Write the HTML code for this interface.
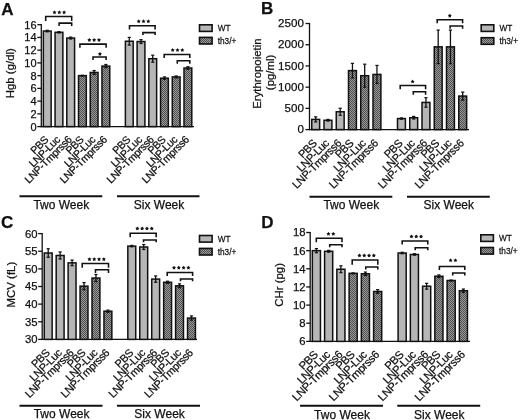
<!DOCTYPE html>
<html><head><meta charset="utf-8"><style>
html,body{margin:0;padding:0;background:#fff;}
body{width:520px;height:420px;overflow:hidden;}
svg{display:block;will-change:transform;filter:blur(0.3px);}
text{font-family:"Liberation Sans", sans-serif;fill:#111;stroke:#111;stroke-width:0.25px;}
</style></head><body>
<svg width="520" height="420" viewBox="0 0 520 420">
<defs>
<pattern id="hatch" patternUnits="userSpaceOnUse" width="2" height="2">
<rect width="2" height="2" fill="#999999"/>
<rect width="1" height="1" fill="#505050"/>
<rect x="1" y="1" width="1" height="1" fill="#505050"/>
</pattern>
</defs>
<rect width="520" height="420" fill="#fff"/>
<text x="1.2" y="14.7" font-size="17" font-weight="bold">A</text>
<line x1="41.3" y1="24.08" x2="41.3" y2="127.2" stroke="#111" stroke-width="1.3"/>
<line x1="37.3" y1="126.6" x2="41.3" y2="126.6" stroke="#111" stroke-width="1.3"/>
<text x="36.6" y="130.5" font-size="11" text-anchor="end">0</text>
<line x1="37.3" y1="113.86" x2="41.3" y2="113.86" stroke="#111" stroke-width="1.3"/>
<text x="36.6" y="117.76" font-size="11" text-anchor="end">2</text>
<line x1="37.3" y1="101.12" x2="41.3" y2="101.12" stroke="#111" stroke-width="1.3"/>
<text x="36.6" y="105.02" font-size="11" text-anchor="end">4</text>
<line x1="37.3" y1="88.38" x2="41.3" y2="88.38" stroke="#111" stroke-width="1.3"/>
<text x="36.6" y="92.28" font-size="11" text-anchor="end">6</text>
<line x1="37.3" y1="75.64" x2="41.3" y2="75.64" stroke="#111" stroke-width="1.3"/>
<text x="36.6" y="79.54" font-size="11" text-anchor="end">8</text>
<line x1="37.3" y1="62.9" x2="41.3" y2="62.9" stroke="#111" stroke-width="1.3"/>
<text x="36.6" y="66.8" font-size="11" text-anchor="end">10</text>
<line x1="37.3" y1="50.16" x2="41.3" y2="50.16" stroke="#111" stroke-width="1.3"/>
<text x="36.6" y="54.06" font-size="11" text-anchor="end">12</text>
<line x1="37.3" y1="37.42" x2="41.3" y2="37.42" stroke="#111" stroke-width="1.3"/>
<text x="36.6" y="41.32" font-size="11" text-anchor="end">14</text>
<line x1="37.3" y1="24.68" x2="41.3" y2="24.68" stroke="#111" stroke-width="1.3"/>
<text x="36.6" y="28.58" font-size="11" text-anchor="end">16</text>
<line x1="40.7" y1="126.6" x2="194" y2="126.6" stroke="#111" stroke-width="1.4"/>
<rect x="43.35" y="31.05" width="7.8" height="95.55" fill="#b6b6b6" stroke="#111" stroke-width="1.5"/>
<line x1="47.25" y1="30.29" x2="47.25" y2="31.81" stroke="#111" stroke-width="1.3"/>
<line x1="45.65" y1="30.29" x2="48.85" y2="30.29" stroke="#111" stroke-width="1.2"/>
<line x1="45.65" y1="31.81" x2="48.85" y2="31.81" stroke="#111" stroke-width="1.2"/>
<text x="49.05" y="140.4" font-size="10.6" letter-spacing="-0.35" text-anchor="end" transform="rotate(-45 49.05 140.4)">PBS</text>
<rect x="55.07" y="32.32" width="7.8" height="94.28" fill="#b6b6b6" stroke="#111" stroke-width="1.5"/>
<line x1="58.97" y1="31.69" x2="58.97" y2="32.96" stroke="#111" stroke-width="1.3"/>
<line x1="57.37" y1="31.69" x2="60.57" y2="31.69" stroke="#111" stroke-width="1.2"/>
<line x1="57.37" y1="32.96" x2="60.57" y2="32.96" stroke="#111" stroke-width="1.2"/>
<text x="60.77" y="140.4" font-size="10.6" letter-spacing="-0.35" text-anchor="end" transform="rotate(-45 60.77 140.4)">LNP-Luc</text>
<rect x="66.79" y="38.06" width="7.8" height="88.54" fill="#b6b6b6" stroke="#111" stroke-width="1.5"/>
<line x1="70.69" y1="37.1" x2="70.69" y2="39.01" stroke="#111" stroke-width="1.3"/>
<line x1="69.09" y1="37.1" x2="72.29" y2="37.1" stroke="#111" stroke-width="1.2"/>
<line x1="69.09" y1="39.01" x2="72.29" y2="39.01" stroke="#111" stroke-width="1.2"/>
<text x="72.49" y="140.4" font-size="10.6" letter-spacing="-0.35" text-anchor="end" transform="rotate(-45 72.49 140.4)">LNP-Tmprss6</text>
<rect x="78.51" y="75.64" width="7.8" height="50.96" fill="url(#hatch)" stroke="#111" stroke-width="1.5"/>
<line x1="82.41" y1="75.32" x2="82.41" y2="75.96" stroke="#111" stroke-width="1.3"/>
<line x1="80.81" y1="75.32" x2="84.01" y2="75.32" stroke="#111" stroke-width="1.2"/>
<line x1="80.81" y1="75.96" x2="84.01" y2="75.96" stroke="#111" stroke-width="1.2"/>
<text x="84.21" y="140.4" font-size="10.6" letter-spacing="-0.35" text-anchor="end" transform="rotate(-45 84.21 140.4)">PBS</text>
<rect x="90.23" y="72.45" width="7.8" height="54.15" fill="url(#hatch)" stroke="#111" stroke-width="1.5"/>
<line x1="94.13" y1="70.54" x2="94.13" y2="74.37" stroke="#111" stroke-width="1.3"/>
<line x1="92.53" y1="70.54" x2="95.73" y2="70.54" stroke="#111" stroke-width="1.2"/>
<line x1="92.53" y1="74.37" x2="95.73" y2="74.37" stroke="#111" stroke-width="1.2"/>
<text x="95.93" y="140.4" font-size="10.6" letter-spacing="-0.35" text-anchor="end" transform="rotate(-45 95.93 140.4)">LNP-Luc</text>
<rect x="101.95" y="66.08" width="7.8" height="60.52" fill="url(#hatch)" stroke="#111" stroke-width="1.5"/>
<line x1="105.85" y1="64.49" x2="105.85" y2="67.68" stroke="#111" stroke-width="1.3"/>
<line x1="104.25" y1="64.49" x2="107.45" y2="64.49" stroke="#111" stroke-width="1.2"/>
<line x1="104.25" y1="67.68" x2="107.45" y2="67.68" stroke="#111" stroke-width="1.2"/>
<text x="107.65" y="140.4" font-size="10.6" letter-spacing="-0.35" text-anchor="end" transform="rotate(-45 107.65 140.4)">LNP-Tmprss6</text>
<rect x="125.39" y="41.24" width="7.8" height="85.36" fill="#b6b6b6" stroke="#111" stroke-width="1.5"/>
<line x1="129.29" y1="37.42" x2="129.29" y2="45.06" stroke="#111" stroke-width="1.3"/>
<line x1="127.69" y1="37.42" x2="130.89" y2="37.42" stroke="#111" stroke-width="1.2"/>
<line x1="127.69" y1="45.06" x2="130.89" y2="45.06" stroke="#111" stroke-width="1.2"/>
<text x="131.09" y="140.4" font-size="10.6" letter-spacing="-0.35" text-anchor="end" transform="rotate(-45 131.09 140.4)">PBS</text>
<rect x="137.11" y="41.56" width="7.8" height="85.04" fill="#b6b6b6" stroke="#111" stroke-width="1.5"/>
<line x1="141.01" y1="39.65" x2="141.01" y2="43.47" stroke="#111" stroke-width="1.3"/>
<line x1="139.41" y1="39.65" x2="142.61" y2="39.65" stroke="#111" stroke-width="1.2"/>
<line x1="139.41" y1="43.47" x2="142.61" y2="43.47" stroke="#111" stroke-width="1.2"/>
<text x="142.81" y="140.4" font-size="10.6" letter-spacing="-0.35" text-anchor="end" transform="rotate(-45 142.81 140.4)">LNP-Luc</text>
<rect x="148.83" y="58.7" width="7.8" height="67.9" fill="#b6b6b6" stroke="#111" stroke-width="1.5"/>
<line x1="152.73" y1="55.19" x2="152.73" y2="62.2" stroke="#111" stroke-width="1.3"/>
<line x1="151.13" y1="55.19" x2="154.33" y2="55.19" stroke="#111" stroke-width="1.2"/>
<line x1="151.13" y1="62.2" x2="154.33" y2="62.2" stroke="#111" stroke-width="1.2"/>
<text x="154.53" y="140.4" font-size="10.6" letter-spacing="-0.35" text-anchor="end" transform="rotate(-45 154.53 140.4)">LNP-Tmprss6</text>
<rect x="160.55" y="78.19" width="7.8" height="48.41" fill="url(#hatch)" stroke="#111" stroke-width="1.5"/>
<line x1="164.45" y1="76.91" x2="164.45" y2="79.46" stroke="#111" stroke-width="1.3"/>
<line x1="162.85" y1="76.91" x2="166.05" y2="76.91" stroke="#111" stroke-width="1.2"/>
<line x1="162.85" y1="79.46" x2="166.05" y2="79.46" stroke="#111" stroke-width="1.2"/>
<text x="166.25" y="140.4" font-size="10.6" letter-spacing="-0.35" text-anchor="end" transform="rotate(-45 166.25 140.4)">PBS</text>
<rect x="172.27" y="76.91" width="7.8" height="49.69" fill="url(#hatch)" stroke="#111" stroke-width="1.5"/>
<line x1="176.17" y1="75.96" x2="176.17" y2="77.87" stroke="#111" stroke-width="1.3"/>
<line x1="174.57" y1="75.96" x2="177.77" y2="75.96" stroke="#111" stroke-width="1.2"/>
<line x1="174.57" y1="77.87" x2="177.77" y2="77.87" stroke="#111" stroke-width="1.2"/>
<text x="177.97" y="140.4" font-size="10.6" letter-spacing="-0.35" text-anchor="end" transform="rotate(-45 177.97 140.4)">LNP-Luc</text>
<rect x="183.99" y="68" width="7.8" height="58.6" fill="url(#hatch)" stroke="#111" stroke-width="1.5"/>
<line x1="187.89" y1="66.72" x2="187.89" y2="69.27" stroke="#111" stroke-width="1.3"/>
<line x1="186.29" y1="66.72" x2="189.49" y2="66.72" stroke="#111" stroke-width="1.2"/>
<line x1="186.29" y1="69.27" x2="189.49" y2="69.27" stroke="#111" stroke-width="1.2"/>
<text x="189.69" y="140.4" font-size="10.6" letter-spacing="-0.35" text-anchor="end" transform="rotate(-45 189.69 140.4)">LNP-Tmprss6</text>
<path d="M45.7 21V16.5H71.7V21" fill="none" stroke="#111" stroke-width="1.55"/>
<path d="M59.1 26V23.1H71.7V26" fill="none" stroke="#111" stroke-width="1.55"/>
<polygon points="54.50,10.35 55.18,11.52 56.50,11.80 55.59,12.81 55.73,14.15 54.50,13.60 53.27,14.15 53.41,12.81 52.50,11.80 53.82,11.52" fill="#111"/>
<polygon points="59.30,10.35 59.98,11.52 61.30,11.80 60.39,12.81 60.53,14.15 59.30,13.60 58.07,14.15 58.21,12.81 57.30,11.80 58.62,11.52" fill="#111"/>
<polygon points="64.10,10.35 64.78,11.52 66.10,11.80 65.19,12.81 65.33,14.15 64.10,13.60 62.87,14.15 63.01,12.81 62.10,11.80 63.42,11.52" fill="#111"/>
<path d="M79.9 47.7V44.1H106.1V47.7" fill="none" stroke="#111" stroke-width="1.55"/>
<path d="M93 60V57H106.1V60" fill="none" stroke="#111" stroke-width="1.55"/>
<polygon points="89.35,37.95 90.03,39.12 91.35,39.40 90.44,40.41 90.58,41.75 89.35,41.20 88.12,41.75 88.26,40.41 87.35,39.40 88.67,39.12" fill="#111"/>
<polygon points="94.15,37.95 94.83,39.12 96.15,39.40 95.24,40.41 95.38,41.75 94.15,41.20 92.92,41.75 93.06,40.41 92.15,39.40 93.47,39.12" fill="#111"/>
<polygon points="98.95,37.95 99.63,39.12 100.95,39.40 100.04,40.41 100.18,41.75 98.95,41.20 97.72,41.75 97.86,40.41 96.95,39.40 98.27,39.12" fill="#111"/>
<polygon points="99.90,51.95 100.58,53.12 101.90,53.40 100.99,54.41 101.13,55.75 99.90,55.20 98.67,55.75 98.81,54.41 97.90,53.40 99.22,53.12" fill="#111"/>
<path d="M129.5 29.6V25.8H155.1V29.6" fill="none" stroke="#111" stroke-width="1.55"/>
<path d="M142.9 35V32.6H155.1V35" fill="none" stroke="#111" stroke-width="1.55"/>
<polygon points="138.70,19.25 139.38,20.42 140.70,20.70 139.79,21.71 139.93,23.05 138.70,22.50 137.47,23.05 137.61,21.71 136.70,20.70 138.02,20.42" fill="#111"/>
<polygon points="143.50,19.25 144.18,20.42 145.50,20.70 144.59,21.71 144.73,23.05 143.50,22.50 142.27,23.05 142.41,21.71 141.50,20.70 142.82,20.42" fill="#111"/>
<polygon points="148.30,19.25 148.98,20.42 150.30,20.70 149.39,21.71 149.53,23.05 148.30,22.50 147.07,23.05 147.21,21.71 146.30,20.70 147.62,20.42" fill="#111"/>
<path d="M164.2 57.9V54.4H189.8V57.9" fill="none" stroke="#111" stroke-width="1.55"/>
<path d="M177.3 63.7V60.8H189.8V63.7" fill="none" stroke="#111" stroke-width="1.55"/>
<polygon points="172.70,48.05 173.38,49.22 174.70,49.50 173.79,50.51 173.93,51.85 172.70,51.30 171.47,51.85 171.61,50.51 170.70,49.50 172.02,49.22" fill="#111"/>
<polygon points="177.50,48.05 178.18,49.22 179.50,49.50 178.59,50.51 178.73,51.85 177.50,51.30 176.27,51.85 176.41,50.51 175.50,49.50 176.82,49.22" fill="#111"/>
<polygon points="182.30,48.05 182.98,49.22 184.30,49.50 183.39,50.51 183.53,51.85 182.30,51.30 181.07,51.85 181.21,50.51 180.30,49.50 181.62,49.22" fill="#111"/>
<line x1="19.5" y1="196.2" x2="102.3" y2="196.2" stroke="#111" stroke-width="2"/>
<text x="61.3" y="209.3" font-size="12" text-anchor="middle">Two Week</text>
<line x1="117" y1="196.2" x2="199.5" y2="196.2" stroke="#111" stroke-width="2"/>
<text x="159" y="209.3" font-size="12" text-anchor="middle">Six Week</text>
<rect x="199.5" y="24.8" width="12.6" height="6.6" fill="#b6b6b6" stroke="#111" stroke-width="1.6"/>
<rect x="199.5" y="37.4" width="12.6" height="6.6" fill="url(#hatch)" stroke="#111" stroke-width="1.6"/>
<text transform="translate(217.7 31) scale(0.87 1)" font-size="9.5">WT</text>
<text transform="translate(217.7 43.6) scale(0.87 1)" font-size="9.5">th3/+</text>
<text x="14.3" y="73.2" font-size="11.4" text-anchor="middle" transform="rotate(-90 14.3 73.2)">Hgb (g/dl)</text>
<text x="261" y="14.2" font-size="17" font-weight="bold">B</text>
<line x1="309.5" y1="22.9" x2="309.5" y2="130.2" stroke="#111" stroke-width="1.3"/>
<line x1="305.5" y1="129.6" x2="309.5" y2="129.6" stroke="#111" stroke-width="1.3"/>
<text x="303.9" y="133.2" font-size="11.6" text-anchor="end">0</text>
<line x1="305.5" y1="108.38" x2="309.5" y2="108.38" stroke="#111" stroke-width="1.3"/>
<text x="303.9" y="111.98" font-size="11.6" text-anchor="end">500</text>
<line x1="305.5" y1="87.16" x2="309.5" y2="87.16" stroke="#111" stroke-width="1.3"/>
<text x="303.9" y="90.76" font-size="11.6" text-anchor="end">1000</text>
<line x1="305.5" y1="65.94" x2="309.5" y2="65.94" stroke="#111" stroke-width="1.3"/>
<text x="303.9" y="69.54" font-size="11.6" text-anchor="end">1500</text>
<line x1="305.5" y1="44.72" x2="309.5" y2="44.72" stroke="#111" stroke-width="1.3"/>
<text x="303.9" y="48.32" font-size="11.6" text-anchor="end">2000</text>
<line x1="305.5" y1="23.5" x2="309.5" y2="23.5" stroke="#111" stroke-width="1.3"/>
<text x="303.9" y="27.1" font-size="11.6" text-anchor="end">2500</text>
<line x1="308.9" y1="129.6" x2="469" y2="129.6" stroke="#111" stroke-width="1.4"/>
<rect x="311.75" y="119.41" width="7.9" height="10.19" fill="#b6b6b6" stroke="#111" stroke-width="1.5"/>
<line x1="315.7" y1="116.87" x2="315.7" y2="121.96" stroke="#111" stroke-width="1.3"/>
<line x1="314.1" y1="116.87" x2="317.3" y2="116.87" stroke="#111" stroke-width="1.2"/>
<line x1="314.1" y1="121.96" x2="317.3" y2="121.96" stroke="#111" stroke-width="1.2"/>
<text x="317.5" y="144" font-size="11.02" letter-spacing="-0.35" text-anchor="end" transform="rotate(-45 317.5 144)">PBS</text>
<rect x="324" y="120.26" width="7.9" height="9.34" fill="#b6b6b6" stroke="#111" stroke-width="1.5"/>
<line x1="327.95" y1="119.41" x2="327.95" y2="121.11" stroke="#111" stroke-width="1.3"/>
<line x1="326.35" y1="119.41" x2="329.55" y2="119.41" stroke="#111" stroke-width="1.2"/>
<line x1="326.35" y1="121.11" x2="329.55" y2="121.11" stroke="#111" stroke-width="1.2"/>
<text x="329.75" y="144" font-size="11.02" letter-spacing="-0.35" text-anchor="end" transform="rotate(-45 329.75 144)">LNP-Luc</text>
<rect x="336.25" y="111.78" width="7.9" height="17.82" fill="#b6b6b6" stroke="#111" stroke-width="1.5"/>
<line x1="340.2" y1="108.25" x2="340.2" y2="115.3" stroke="#111" stroke-width="1.3"/>
<line x1="338.6" y1="108.25" x2="341.8" y2="108.25" stroke="#111" stroke-width="1.2"/>
<line x1="338.6" y1="115.3" x2="341.8" y2="115.3" stroke="#111" stroke-width="1.2"/>
<text x="342" y="144" font-size="11.02" letter-spacing="-0.35" text-anchor="end" transform="rotate(-45 342 144)">LNP-Tmprss6</text>
<rect x="348.5" y="70.61" width="7.9" height="58.99" fill="url(#hatch)" stroke="#111" stroke-width="1.5"/>
<line x1="352.45" y1="63.35" x2="352.45" y2="77.87" stroke="#111" stroke-width="1.3"/>
<line x1="350.85" y1="63.35" x2="354.05" y2="63.35" stroke="#111" stroke-width="1.2"/>
<line x1="350.85" y1="77.87" x2="354.05" y2="77.87" stroke="#111" stroke-width="1.2"/>
<text x="354.25" y="144" font-size="11.02" letter-spacing="-0.35" text-anchor="end" transform="rotate(-45 354.25 144)">PBS</text>
<rect x="360.75" y="75.7" width="7.9" height="53.9" fill="url(#hatch)" stroke="#111" stroke-width="1.5"/>
<line x1="364.7" y1="64.2" x2="364.7" y2="87.2" stroke="#111" stroke-width="1.3"/>
<line x1="363.1" y1="64.2" x2="366.3" y2="64.2" stroke="#111" stroke-width="1.2"/>
<line x1="363.1" y1="87.2" x2="366.3" y2="87.2" stroke="#111" stroke-width="1.2"/>
<text x="366.5" y="144" font-size="11.02" letter-spacing="-0.35" text-anchor="end" transform="rotate(-45 366.5 144)">LNP-Luc</text>
<rect x="373" y="74.43" width="7.9" height="55.17" fill="url(#hatch)" stroke="#111" stroke-width="1.5"/>
<line x1="376.95" y1="65.43" x2="376.95" y2="83.43" stroke="#111" stroke-width="1.3"/>
<line x1="375.35" y1="65.43" x2="378.55" y2="65.43" stroke="#111" stroke-width="1.2"/>
<line x1="375.35" y1="83.43" x2="378.55" y2="83.43" stroke="#111" stroke-width="1.2"/>
<text x="378.75" y="144" font-size="11.02" letter-spacing="-0.35" text-anchor="end" transform="rotate(-45 378.75 144)">LNP-Tmprss6</text>
<rect x="397.5" y="118.57" width="7.9" height="11.03" fill="#b6b6b6" stroke="#111" stroke-width="1.5"/>
<line x1="401.45" y1="117.93" x2="401.45" y2="119.2" stroke="#111" stroke-width="1.3"/>
<line x1="399.85" y1="117.93" x2="403.05" y2="117.93" stroke="#111" stroke-width="1.2"/>
<line x1="399.85" y1="119.2" x2="403.05" y2="119.2" stroke="#111" stroke-width="1.2"/>
<text x="403.25" y="144" font-size="11.02" letter-spacing="-0.35" text-anchor="end" transform="rotate(-45 403.25 144)">PBS</text>
<rect x="409.75" y="117.72" width="7.9" height="11.88" fill="#b6b6b6" stroke="#111" stroke-width="1.5"/>
<line x1="413.7" y1="116.44" x2="413.7" y2="118.99" stroke="#111" stroke-width="1.3"/>
<line x1="412.1" y1="116.44" x2="415.3" y2="116.44" stroke="#111" stroke-width="1.2"/>
<line x1="412.1" y1="118.99" x2="415.3" y2="118.99" stroke="#111" stroke-width="1.2"/>
<text x="415.5" y="144" font-size="11.02" letter-spacing="-0.35" text-anchor="end" transform="rotate(-45 415.5 144)">LNP-Luc</text>
<rect x="422" y="102.44" width="7.9" height="27.16" fill="#b6b6b6" stroke="#111" stroke-width="1.5"/>
<line x1="425.95" y1="97.69" x2="425.95" y2="107.19" stroke="#111" stroke-width="1.3"/>
<line x1="424.35" y1="97.69" x2="427.55" y2="97.69" stroke="#111" stroke-width="1.2"/>
<line x1="424.35" y1="107.19" x2="427.55" y2="107.19" stroke="#111" stroke-width="1.2"/>
<text x="427.75" y="144" font-size="11.02" letter-spacing="-0.35" text-anchor="end" transform="rotate(-45 427.75 144)">LNP-Tmprss6</text>
<rect x="434.25" y="46.84" width="7.9" height="82.76" fill="url(#hatch)" stroke="#111" stroke-width="1.5"/>
<line x1="438.2" y1="30.08" x2="438.2" y2="63.61" stroke="#111" stroke-width="1.3"/>
<line x1="436.6" y1="30.08" x2="439.8" y2="30.08" stroke="#111" stroke-width="1.2"/>
<line x1="436.6" y1="63.61" x2="439.8" y2="63.61" stroke="#111" stroke-width="1.2"/>
<text x="440" y="144" font-size="11.02" letter-spacing="-0.35" text-anchor="end" transform="rotate(-45 440 144)">PBS</text>
<rect x="446.5" y="46.84" width="7.9" height="82.76" fill="url(#hatch)" stroke="#111" stroke-width="1.5"/>
<line x1="450.45" y1="30.08" x2="450.45" y2="63.61" stroke="#111" stroke-width="1.3"/>
<line x1="448.85" y1="30.08" x2="452.05" y2="30.08" stroke="#111" stroke-width="1.2"/>
<line x1="448.85" y1="63.61" x2="452.05" y2="63.61" stroke="#111" stroke-width="1.2"/>
<text x="452.25" y="144" font-size="11.02" letter-spacing="-0.35" text-anchor="end" transform="rotate(-45 452.25 144)">LNP-Luc</text>
<rect x="458.75" y="96.07" width="7.9" height="33.53" fill="url(#hatch)" stroke="#111" stroke-width="1.5"/>
<line x1="462.7" y1="92.08" x2="462.7" y2="100.06" stroke="#111" stroke-width="1.3"/>
<line x1="461.1" y1="92.08" x2="464.3" y2="92.08" stroke="#111" stroke-width="1.2"/>
<line x1="461.1" y1="100.06" x2="464.3" y2="100.06" stroke="#111" stroke-width="1.2"/>
<text x="464.5" y="144" font-size="11.02" letter-spacing="-0.35" text-anchor="end" transform="rotate(-45 464.5 144)">LNP-Tmprss6</text>
<path d="M400.2 89.3V85.4H425.6V89.3" fill="none" stroke="#111" stroke-width="1.55"/>
<path d="M413.3 94.7V91.8H425.6V94.7" fill="none" stroke="#111" stroke-width="1.55"/>
<polygon points="412.60,79.55 413.28,80.72 414.60,81.00 413.69,82.01 413.83,83.35 412.60,82.80 411.37,83.35 411.51,82.01 410.60,81.00 411.92,80.72" fill="#111"/>
<path d="M437.2 23.3V19.8H462.6V23.3" fill="none" stroke="#111" stroke-width="1.55"/>
<path d="M450.1 28.7V26H462.6V28.7" fill="none" stroke="#111" stroke-width="1.55"/>
<polygon points="449.80,13.65 450.48,14.82 451.80,15.10 450.89,16.11 451.03,17.45 449.80,16.90 448.57,17.45 448.71,16.11 447.80,15.10 449.12,14.82" fill="#111"/>
<line x1="309.5" y1="196.7" x2="392.3" y2="196.7" stroke="#111" stroke-width="2"/>
<text x="351.3" y="208.9" font-size="12" text-anchor="middle">Two Week</text>
<line x1="407" y1="196.7" x2="489.8" y2="196.7" stroke="#111" stroke-width="2"/>
<text x="448.8" y="208.9" font-size="12" text-anchor="middle">Six Week</text>
<rect x="481.2" y="24.8" width="12.6" height="6.6" fill="#b6b6b6" stroke="#111" stroke-width="1.6"/>
<rect x="481.2" y="37.7" width="12.6" height="6.6" fill="url(#hatch)" stroke="#111" stroke-width="1.6"/>
<text transform="translate(499.4 31) scale(0.87 1)" font-size="9.5">WT</text>
<text transform="translate(499.4 43.9) scale(0.87 1)" font-size="9.5">th3/+</text>
<text x="261" y="73.6" font-size="11.4" text-anchor="middle" transform="rotate(-90 261 73.6)">Erythropoietin</text>
<text x="274.2" y="72.4" font-size="11.4" text-anchor="middle" transform="rotate(-90 274.2 72.4)">(pg/ml)</text>
<text x="1" y="228.2" font-size="17" font-weight="bold">C</text>
<line x1="42.2" y1="233" x2="42.2" y2="340" stroke="#111" stroke-width="1.3"/>
<line x1="38.2" y1="339.4" x2="42.2" y2="339.4" stroke="#111" stroke-width="1.3"/>
<text x="37.5" y="343.3" font-size="11.3" text-anchor="end">30</text>
<line x1="38.2" y1="321.77" x2="42.2" y2="321.77" stroke="#111" stroke-width="1.3"/>
<text x="37.5" y="325.67" font-size="11.3" text-anchor="end">35</text>
<line x1="38.2" y1="304.13" x2="42.2" y2="304.13" stroke="#111" stroke-width="1.3"/>
<text x="37.5" y="308.03" font-size="11.3" text-anchor="end">40</text>
<line x1="38.2" y1="286.5" x2="42.2" y2="286.5" stroke="#111" stroke-width="1.3"/>
<text x="37.5" y="290.4" font-size="11.3" text-anchor="end">45</text>
<line x1="38.2" y1="268.87" x2="42.2" y2="268.87" stroke="#111" stroke-width="1.3"/>
<text x="37.5" y="272.77" font-size="11.3" text-anchor="end">50</text>
<line x1="38.2" y1="251.23" x2="42.2" y2="251.23" stroke="#111" stroke-width="1.3"/>
<text x="37.5" y="255.13" font-size="11.3" text-anchor="end">55</text>
<line x1="38.2" y1="233.6" x2="42.2" y2="233.6" stroke="#111" stroke-width="1.3"/>
<text x="37.5" y="237.5" font-size="11.3" text-anchor="end">60</text>
<line x1="41.6" y1="339.4" x2="197" y2="339.4" stroke="#111" stroke-width="1.4"/>
<rect x="44.25" y="253" width="7.9" height="86.4" fill="#b6b6b6" stroke="#111" stroke-width="1.5"/>
<line x1="48.2" y1="248.76" x2="48.2" y2="257.23" stroke="#111" stroke-width="1.3"/>
<line x1="46.6" y1="248.76" x2="49.8" y2="248.76" stroke="#111" stroke-width="1.2"/>
<line x1="46.6" y1="257.23" x2="49.8" y2="257.23" stroke="#111" stroke-width="1.2"/>
<text x="50.4" y="353.7" font-size="10.92" letter-spacing="-0.35" text-anchor="end" transform="rotate(-45 50.4 353.7)">PBS</text>
<rect x="56.19" y="255.47" width="7.9" height="83.93" fill="#b6b6b6" stroke="#111" stroke-width="1.5"/>
<line x1="60.14" y1="251.94" x2="60.14" y2="258.99" stroke="#111" stroke-width="1.3"/>
<line x1="58.54" y1="251.94" x2="61.74" y2="251.94" stroke="#111" stroke-width="1.2"/>
<line x1="58.54" y1="258.99" x2="61.74" y2="258.99" stroke="#111" stroke-width="1.2"/>
<text x="62.34" y="353.7" font-size="10.92" letter-spacing="-0.35" text-anchor="end" transform="rotate(-45 62.34 353.7)">LNP-Luc</text>
<rect x="68.13" y="262.87" width="7.9" height="76.53" fill="#b6b6b6" stroke="#111" stroke-width="1.5"/>
<line x1="72.08" y1="260.05" x2="72.08" y2="265.69" stroke="#111" stroke-width="1.3"/>
<line x1="70.48" y1="260.05" x2="73.68" y2="260.05" stroke="#111" stroke-width="1.2"/>
<line x1="70.48" y1="265.69" x2="73.68" y2="265.69" stroke="#111" stroke-width="1.2"/>
<text x="74.28" y="353.7" font-size="10.92" letter-spacing="-0.35" text-anchor="end" transform="rotate(-45 74.28 353.7)">LNP-Tmprss6</text>
<rect x="80.07" y="286.15" width="7.9" height="53.25" fill="url(#hatch)" stroke="#111" stroke-width="1.5"/>
<line x1="84.02" y1="282.62" x2="84.02" y2="289.67" stroke="#111" stroke-width="1.3"/>
<line x1="82.42" y1="282.62" x2="85.62" y2="282.62" stroke="#111" stroke-width="1.2"/>
<line x1="82.42" y1="289.67" x2="85.62" y2="289.67" stroke="#111" stroke-width="1.2"/>
<text x="86.22" y="353.7" font-size="10.92" letter-spacing="-0.35" text-anchor="end" transform="rotate(-45 86.22 353.7)">PBS</text>
<rect x="92.01" y="278.04" width="7.9" height="61.36" fill="url(#hatch)" stroke="#111" stroke-width="1.5"/>
<line x1="95.96" y1="274.51" x2="95.96" y2="281.56" stroke="#111" stroke-width="1.3"/>
<line x1="94.36" y1="274.51" x2="97.56" y2="274.51" stroke="#111" stroke-width="1.2"/>
<line x1="94.36" y1="281.56" x2="97.56" y2="281.56" stroke="#111" stroke-width="1.2"/>
<text x="98.16" y="353.7" font-size="10.92" letter-spacing="-0.35" text-anchor="end" transform="rotate(-45 98.16 353.7)">LNP-Luc</text>
<rect x="103.95" y="311.19" width="7.9" height="28.21" fill="url(#hatch)" stroke="#111" stroke-width="1.5"/>
<line x1="107.9" y1="310.13" x2="107.9" y2="312.24" stroke="#111" stroke-width="1.3"/>
<line x1="106.3" y1="310.13" x2="109.5" y2="310.13" stroke="#111" stroke-width="1.2"/>
<line x1="106.3" y1="312.24" x2="109.5" y2="312.24" stroke="#111" stroke-width="1.2"/>
<text x="110.1" y="353.7" font-size="10.92" letter-spacing="-0.35" text-anchor="end" transform="rotate(-45 110.1 353.7)">LNP-Tmprss6</text>
<rect x="127.83" y="246.12" width="7.9" height="93.28" fill="#b6b6b6" stroke="#111" stroke-width="1.5"/>
<line x1="131.78" y1="245.41" x2="131.78" y2="246.82" stroke="#111" stroke-width="1.3"/>
<line x1="130.18" y1="245.41" x2="133.38" y2="245.41" stroke="#111" stroke-width="1.2"/>
<line x1="130.18" y1="246.82" x2="133.38" y2="246.82" stroke="#111" stroke-width="1.2"/>
<text x="133.98" y="353.7" font-size="10.92" letter-spacing="-0.35" text-anchor="end" transform="rotate(-45 133.98 353.7)">PBS</text>
<rect x="139.77" y="247" width="7.9" height="92.4" fill="#b6b6b6" stroke="#111" stroke-width="1.5"/>
<line x1="143.72" y1="244.53" x2="143.72" y2="249.47" stroke="#111" stroke-width="1.3"/>
<line x1="142.12" y1="244.53" x2="145.32" y2="244.53" stroke="#111" stroke-width="1.2"/>
<line x1="142.12" y1="249.47" x2="145.32" y2="249.47" stroke="#111" stroke-width="1.2"/>
<text x="145.92" y="353.7" font-size="10.92" letter-spacing="-0.35" text-anchor="end" transform="rotate(-45 145.92 353.7)">LNP-Luc</text>
<rect x="151.71" y="279.09" width="7.9" height="60.31" fill="#b6b6b6" stroke="#111" stroke-width="1.5"/>
<line x1="155.66" y1="275.92" x2="155.66" y2="282.27" stroke="#111" stroke-width="1.3"/>
<line x1="154.06" y1="275.92" x2="157.26" y2="275.92" stroke="#111" stroke-width="1.2"/>
<line x1="154.06" y1="282.27" x2="157.26" y2="282.27" stroke="#111" stroke-width="1.2"/>
<text x="157.86" y="353.7" font-size="10.92" letter-spacing="-0.35" text-anchor="end" transform="rotate(-45 157.86 353.7)">LNP-Tmprss6</text>
<rect x="163.65" y="282.27" width="7.9" height="57.13" fill="url(#hatch)" stroke="#111" stroke-width="1.5"/>
<line x1="167.6" y1="281.21" x2="167.6" y2="283.33" stroke="#111" stroke-width="1.3"/>
<line x1="166" y1="281.21" x2="169.2" y2="281.21" stroke="#111" stroke-width="1.2"/>
<line x1="166" y1="283.33" x2="169.2" y2="283.33" stroke="#111" stroke-width="1.2"/>
<text x="169.8" y="353.7" font-size="10.92" letter-spacing="-0.35" text-anchor="end" transform="rotate(-45 169.8 353.7)">PBS</text>
<rect x="175.59" y="285.79" width="7.9" height="53.61" fill="url(#hatch)" stroke="#111" stroke-width="1.5"/>
<line x1="179.54" y1="283.85" x2="179.54" y2="287.73" stroke="#111" stroke-width="1.3"/>
<line x1="177.94" y1="283.85" x2="181.14" y2="283.85" stroke="#111" stroke-width="1.2"/>
<line x1="177.94" y1="287.73" x2="181.14" y2="287.73" stroke="#111" stroke-width="1.2"/>
<text x="181.74" y="353.7" font-size="10.92" letter-spacing="-0.35" text-anchor="end" transform="rotate(-45 181.74 353.7)">LNP-Luc</text>
<rect x="187.53" y="318.06" width="7.9" height="21.34" fill="url(#hatch)" stroke="#111" stroke-width="1.5"/>
<line x1="191.48" y1="315.95" x2="191.48" y2="320.18" stroke="#111" stroke-width="1.3"/>
<line x1="189.88" y1="315.95" x2="193.08" y2="315.95" stroke="#111" stroke-width="1.2"/>
<line x1="189.88" y1="320.18" x2="193.08" y2="320.18" stroke="#111" stroke-width="1.2"/>
<text x="193.68" y="353.7" font-size="10.92" letter-spacing="-0.35" text-anchor="end" transform="rotate(-45 193.68 353.7)">LNP-Tmprss6</text>
<path d="M82.2 267.8V263.5H108.5V267.8" fill="none" stroke="#111" stroke-width="1.55"/>
<path d="M95.5 273.1V269.8H108.5V273.1" fill="none" stroke="#111" stroke-width="1.55"/>
<polygon points="89.45,257.15 90.13,258.32 91.45,258.60 90.54,259.61 90.68,260.95 89.45,260.40 88.22,260.95 88.36,259.61 87.45,258.60 88.77,258.32" fill="#111"/>
<polygon points="94.25,257.15 94.93,258.32 96.25,258.60 95.34,259.61 95.48,260.95 94.25,260.40 93.02,260.95 93.16,259.61 92.25,258.60 93.57,258.32" fill="#111"/>
<polygon points="99.05,257.15 99.73,258.32 101.05,258.60 100.14,259.61 100.28,260.95 99.05,260.40 97.82,260.95 97.96,259.61 97.05,258.60 98.37,258.32" fill="#111"/>
<polygon points="103.85,257.15 104.53,258.32 105.85,258.60 104.94,259.61 105.08,260.95 103.85,260.40 102.62,260.95 102.76,259.61 101.85,258.60 103.17,258.32" fill="#111"/>
<path d="M130.2 237.3V233.3H156.2V237.3" fill="none" stroke="#111" stroke-width="1.55"/>
<path d="M143.5 242.3V240H156.2V242.3" fill="none" stroke="#111" stroke-width="1.55"/>
<polygon points="137.35,226.45 138.03,227.62 139.35,227.90 138.44,228.91 138.58,230.25 137.35,229.70 136.12,230.25 136.26,228.91 135.35,227.90 136.67,227.62" fill="#111"/>
<polygon points="142.15,226.45 142.83,227.62 144.15,227.90 143.24,228.91 143.38,230.25 142.15,229.70 140.92,230.25 141.06,228.91 140.15,227.90 141.47,227.62" fill="#111"/>
<polygon points="146.95,226.45 147.63,227.62 148.95,227.90 148.04,228.91 148.18,230.25 146.95,229.70 145.72,230.25 145.86,228.91 144.95,227.90 146.27,227.62" fill="#111"/>
<polygon points="151.75,226.45 152.43,227.62 153.75,227.90 152.84,228.91 152.98,230.25 151.75,229.70 150.52,230.25 150.66,228.91 149.75,227.90 151.07,227.62" fill="#111"/>
<path d="M167.2 276V272.4H192.6V276" fill="none" stroke="#111" stroke-width="1.55"/>
<path d="M180.5 281.3V279H192.6V281.3" fill="none" stroke="#111" stroke-width="1.55"/>
<polygon points="174.00,265.65 174.68,266.82 176.00,267.10 175.09,268.11 175.23,269.45 174.00,268.90 172.77,269.45 172.91,268.11 172.00,267.10 173.32,266.82" fill="#111"/>
<polygon points="178.80,265.65 179.48,266.82 180.80,267.10 179.89,268.11 180.03,269.45 178.80,268.90 177.57,269.45 177.71,268.11 176.80,267.10 178.12,266.82" fill="#111"/>
<polygon points="183.60,265.65 184.28,266.82 185.60,267.10 184.69,268.11 184.83,269.45 183.60,268.90 182.37,269.45 182.51,268.11 181.60,267.10 182.92,266.82" fill="#111"/>
<polygon points="188.40,265.65 189.08,266.82 190.40,267.10 189.49,268.11 189.63,269.45 188.40,268.90 187.17,269.45 187.31,268.11 186.40,267.10 187.72,266.82" fill="#111"/>
<line x1="19.5" y1="405.8" x2="102.5" y2="405.8" stroke="#111" stroke-width="2"/>
<text x="61.6" y="418.2" font-size="12" text-anchor="middle">Two Week</text>
<line x1="117" y1="405.8" x2="200" y2="405.8" stroke="#111" stroke-width="2"/>
<text x="159.6" y="418.2" font-size="12" text-anchor="middle">Six Week</text>
<rect x="199.5" y="235.5" width="12.6" height="6.6" fill="#b6b6b6" stroke="#111" stroke-width="1.6"/>
<rect x="199.5" y="248.4" width="12.6" height="6.6" fill="url(#hatch)" stroke="#111" stroke-width="1.6"/>
<text transform="translate(217.7 241.7) scale(0.87 1)" font-size="9.5">WT</text>
<text transform="translate(217.7 254.6) scale(0.87 1)" font-size="9.5">th3/+</text>
<text x="14.6" y="284.6" font-size="11.4" text-anchor="middle" transform="rotate(-90 14.6 284.6)">MCV (fL)</text>
<text x="261.3" y="228.2" font-size="17" font-weight="bold">D</text>
<line x1="310.2" y1="231.9" x2="310.2" y2="342" stroke="#111" stroke-width="1.3"/>
<line x1="306.2" y1="341.4" x2="310.2" y2="341.4" stroke="#111" stroke-width="1.3"/>
<text x="305.5" y="345.3" font-size="11.3" text-anchor="end">6</text>
<line x1="306.2" y1="323.25" x2="310.2" y2="323.25" stroke="#111" stroke-width="1.3"/>
<text x="305.5" y="327.15" font-size="11.3" text-anchor="end">8</text>
<line x1="306.2" y1="305.1" x2="310.2" y2="305.1" stroke="#111" stroke-width="1.3"/>
<text x="305.5" y="309" font-size="11.3" text-anchor="end">10</text>
<line x1="306.2" y1="286.95" x2="310.2" y2="286.95" stroke="#111" stroke-width="1.3"/>
<text x="305.5" y="290.85" font-size="11.3" text-anchor="end">12</text>
<line x1="306.2" y1="268.8" x2="310.2" y2="268.8" stroke="#111" stroke-width="1.3"/>
<text x="305.5" y="272.7" font-size="11.3" text-anchor="end">14</text>
<line x1="306.2" y1="250.65" x2="310.2" y2="250.65" stroke="#111" stroke-width="1.3"/>
<text x="305.5" y="254.55" font-size="11.3" text-anchor="end">16</text>
<line x1="306.2" y1="232.5" x2="310.2" y2="232.5" stroke="#111" stroke-width="1.3"/>
<text x="305.5" y="236.4" font-size="11.3" text-anchor="end">18</text>
<line x1="309.6" y1="341.4" x2="470" y2="341.4" stroke="#111" stroke-width="1.4"/>
<rect x="312.35" y="250.65" width="8.1" height="90.75" fill="#b6b6b6" stroke="#111" stroke-width="1.5"/>
<line x1="316.4" y1="248.56" x2="316.4" y2="252.74" stroke="#111" stroke-width="1.3"/>
<line x1="314.8" y1="248.56" x2="318" y2="248.56" stroke="#111" stroke-width="1.2"/>
<line x1="314.8" y1="252.74" x2="318" y2="252.74" stroke="#111" stroke-width="1.2"/>
<text x="318.6" y="355.4" font-size="11.24" letter-spacing="-0.35" text-anchor="end" transform="rotate(-45 318.6 355.4)">PBS</text>
<rect x="324.6" y="251.29" width="8.1" height="90.11" fill="#b6b6b6" stroke="#111" stroke-width="1.5"/>
<line x1="328.65" y1="250.38" x2="328.65" y2="252.19" stroke="#111" stroke-width="1.3"/>
<line x1="327.05" y1="250.38" x2="330.25" y2="250.38" stroke="#111" stroke-width="1.2"/>
<line x1="327.05" y1="252.19" x2="330.25" y2="252.19" stroke="#111" stroke-width="1.2"/>
<text x="330.85" y="355.4" font-size="11.24" letter-spacing="-0.35" text-anchor="end" transform="rotate(-45 330.85 355.4)">LNP-Luc</text>
<rect x="336.85" y="269.25" width="8.1" height="72.15" fill="#b6b6b6" stroke="#111" stroke-width="1.5"/>
<line x1="340.9" y1="265.81" x2="340.9" y2="272.7" stroke="#111" stroke-width="1.3"/>
<line x1="339.3" y1="265.81" x2="342.5" y2="265.81" stroke="#111" stroke-width="1.2"/>
<line x1="339.3" y1="272.7" x2="342.5" y2="272.7" stroke="#111" stroke-width="1.2"/>
<text x="343.1" y="355.4" font-size="11.24" letter-spacing="-0.35" text-anchor="end" transform="rotate(-45 343.1 355.4)">LNP-Tmprss6</text>
<rect x="349.1" y="273.34" width="8.1" height="68.06" fill="url(#hatch)" stroke="#111" stroke-width="1.5"/>
<line x1="353.15" y1="272.88" x2="353.15" y2="273.79" stroke="#111" stroke-width="1.3"/>
<line x1="351.55" y1="272.88" x2="354.75" y2="272.88" stroke="#111" stroke-width="1.2"/>
<line x1="351.55" y1="273.79" x2="354.75" y2="273.79" stroke="#111" stroke-width="1.2"/>
<text x="355.35" y="355.4" font-size="11.24" letter-spacing="-0.35" text-anchor="end" transform="rotate(-45 355.35 355.4)">PBS</text>
<rect x="361.35" y="273.79" width="8.1" height="67.61" fill="url(#hatch)" stroke="#111" stroke-width="1.5"/>
<line x1="365.4" y1="272.07" x2="365.4" y2="275.52" stroke="#111" stroke-width="1.3"/>
<line x1="363.8" y1="272.07" x2="367" y2="272.07" stroke="#111" stroke-width="1.2"/>
<line x1="363.8" y1="275.52" x2="367" y2="275.52" stroke="#111" stroke-width="1.2"/>
<text x="367.6" y="355.4" font-size="11.24" letter-spacing="-0.35" text-anchor="end" transform="rotate(-45 367.6 355.4)">LNP-Luc</text>
<rect x="373.6" y="291.49" width="8.1" height="49.91" fill="url(#hatch)" stroke="#111" stroke-width="1.5"/>
<line x1="377.65" y1="289.67" x2="377.65" y2="293.3" stroke="#111" stroke-width="1.3"/>
<line x1="376.05" y1="289.67" x2="379.25" y2="289.67" stroke="#111" stroke-width="1.2"/>
<line x1="376.05" y1="293.3" x2="379.25" y2="293.3" stroke="#111" stroke-width="1.2"/>
<text x="379.85" y="355.4" font-size="11.24" letter-spacing="-0.35" text-anchor="end" transform="rotate(-45 379.85 355.4)">LNP-Tmprss6</text>
<rect x="398.1" y="253.01" width="8.1" height="88.39" fill="#b6b6b6" stroke="#111" stroke-width="1.5"/>
<line x1="402.15" y1="252.28" x2="402.15" y2="253.74" stroke="#111" stroke-width="1.3"/>
<line x1="400.55" y1="252.28" x2="403.75" y2="252.28" stroke="#111" stroke-width="1.2"/>
<line x1="400.55" y1="253.74" x2="403.75" y2="253.74" stroke="#111" stroke-width="1.2"/>
<text x="404.35" y="355.4" font-size="11.24" letter-spacing="-0.35" text-anchor="end" transform="rotate(-45 404.35 355.4)">PBS</text>
<rect x="410.35" y="254.46" width="8.1" height="86.94" fill="#b6b6b6" stroke="#111" stroke-width="1.5"/>
<line x1="414.4" y1="253.74" x2="414.4" y2="255.19" stroke="#111" stroke-width="1.3"/>
<line x1="412.8" y1="253.74" x2="416" y2="253.74" stroke="#111" stroke-width="1.2"/>
<line x1="412.8" y1="255.19" x2="416" y2="255.19" stroke="#111" stroke-width="1.2"/>
<text x="416.6" y="355.4" font-size="11.24" letter-spacing="-0.35" text-anchor="end" transform="rotate(-45 416.6 355.4)">LNP-Luc</text>
<rect x="422.6" y="286.22" width="8.1" height="55.18" fill="#b6b6b6" stroke="#111" stroke-width="1.5"/>
<line x1="426.65" y1="283.32" x2="426.65" y2="289.13" stroke="#111" stroke-width="1.3"/>
<line x1="425.05" y1="283.32" x2="428.25" y2="283.32" stroke="#111" stroke-width="1.2"/>
<line x1="425.05" y1="289.13" x2="428.25" y2="289.13" stroke="#111" stroke-width="1.2"/>
<text x="428.85" y="355.4" font-size="11.24" letter-spacing="-0.35" text-anchor="end" transform="rotate(-45 428.85 355.4)">LNP-Tmprss6</text>
<rect x="434.85" y="276.24" width="8.1" height="65.16" fill="url(#hatch)" stroke="#111" stroke-width="1.5"/>
<line x1="438.9" y1="274.88" x2="438.9" y2="277.6" stroke="#111" stroke-width="1.3"/>
<line x1="437.3" y1="274.88" x2="440.5" y2="274.88" stroke="#111" stroke-width="1.2"/>
<line x1="437.3" y1="277.6" x2="440.5" y2="277.6" stroke="#111" stroke-width="1.2"/>
<text x="441.1" y="355.4" font-size="11.24" letter-spacing="-0.35" text-anchor="end" transform="rotate(-45 441.1 355.4)">PBS</text>
<rect x="447.1" y="280.51" width="8.1" height="60.89" fill="url(#hatch)" stroke="#111" stroke-width="1.5"/>
<line x1="451.15" y1="280.05" x2="451.15" y2="280.96" stroke="#111" stroke-width="1.3"/>
<line x1="449.55" y1="280.05" x2="452.75" y2="280.05" stroke="#111" stroke-width="1.2"/>
<line x1="449.55" y1="280.96" x2="452.75" y2="280.96" stroke="#111" stroke-width="1.2"/>
<text x="453.35" y="355.4" font-size="11.24" letter-spacing="-0.35" text-anchor="end" transform="rotate(-45 453.35 355.4)">LNP-Luc</text>
<rect x="459.35" y="290.76" width="8.1" height="50.64" fill="url(#hatch)" stroke="#111" stroke-width="1.5"/>
<line x1="463.4" y1="289.04" x2="463.4" y2="292.49" stroke="#111" stroke-width="1.3"/>
<line x1="461.8" y1="289.04" x2="465" y2="289.04" stroke="#111" stroke-width="1.2"/>
<line x1="461.8" y1="292.49" x2="465" y2="292.49" stroke="#111" stroke-width="1.2"/>
<text x="465.6" y="355.4" font-size="11.24" letter-spacing="-0.35" text-anchor="end" transform="rotate(-45 465.6 355.4)">LNP-Tmprss6</text>
<path d="M316.3 242.3V238.3H342V242.3" fill="none" stroke="#111" stroke-width="1.55"/>
<path d="M329.7 247.3V244.7H342V247.3" fill="none" stroke="#111" stroke-width="1.55"/>
<polygon points="328.45,231.85 329.13,233.02 330.45,233.30 329.54,234.31 329.68,235.65 328.45,235.10 327.22,235.65 327.36,234.31 326.45,233.30 327.77,233.02" fill="#111"/>
<polygon points="333.25,231.85 333.93,233.02 335.25,233.30 334.34,234.31 334.48,235.65 333.25,235.10 332.02,235.65 332.16,234.31 331.25,233.30 332.57,233.02" fill="#111"/>
<path d="M352.2 264.8V260H377.8V264.8" fill="none" stroke="#111" stroke-width="1.55"/>
<path d="M365.8 269.5V267H377.8V269.5" fill="none" stroke="#111" stroke-width="1.55"/>
<polygon points="359.45,253.45 360.13,254.62 361.45,254.90 360.54,255.91 360.68,257.25 359.45,256.70 358.22,257.25 358.36,255.91 357.45,254.90 358.77,254.62" fill="#111"/>
<polygon points="364.25,253.45 364.93,254.62 366.25,254.90 365.34,255.91 365.48,257.25 364.25,256.70 363.02,257.25 363.16,255.91 362.25,254.90 363.57,254.62" fill="#111"/>
<polygon points="369.05,253.45 369.73,254.62 371.05,254.90 370.14,255.91 370.28,257.25 369.05,256.70 367.82,257.25 367.96,255.91 367.05,254.90 368.37,254.62" fill="#111"/>
<polygon points="373.85,253.45 374.53,254.62 375.85,254.90 374.94,255.91 375.08,257.25 373.85,256.70 372.62,257.25 372.76,255.91 371.85,254.90 373.17,254.62" fill="#111"/>
<path d="M402.2 244.5V241H427.8V244.5" fill="none" stroke="#111" stroke-width="1.55"/>
<path d="M415.2 250.3V247.7H427.8V250.3" fill="none" stroke="#111" stroke-width="1.55"/>
<polygon points="411.45,234.45 412.13,235.62 413.45,235.90 412.54,236.91 412.68,238.25 411.45,237.70 410.22,238.25 410.36,236.91 409.45,235.90 410.77,235.62" fill="#111"/>
<polygon points="416.25,234.45 416.93,235.62 418.25,235.90 417.34,236.91 417.48,238.25 416.25,237.70 415.02,238.25 415.16,236.91 414.25,235.90 415.57,235.62" fill="#111"/>
<polygon points="421.05,234.45 421.73,235.62 423.05,235.90 422.14,236.91 422.28,238.25 421.05,237.70 419.82,238.25 419.96,236.91 419.05,235.90 420.37,235.62" fill="#111"/>
<path d="M439.4 270V266.5H464.8V270" fill="none" stroke="#111" stroke-width="1.55"/>
<path d="M452.7 275.4V272.9H464.8V275.4" fill="none" stroke="#111" stroke-width="1.55"/>
<polygon points="450.60,258.25 451.28,259.42 452.60,259.70 451.69,260.71 451.83,262.05 450.60,261.50 449.37,262.05 449.51,260.71 448.60,259.70 449.92,259.42" fill="#111"/>
<polygon points="455.40,258.25 456.08,259.42 457.40,259.70 456.49,260.71 456.63,262.05 455.40,261.50 454.17,262.05 454.31,260.71 453.40,259.70 454.72,259.42" fill="#111"/>
<line x1="300" y1="405.8" x2="383" y2="405.8" stroke="#111" stroke-width="2"/>
<text x="342" y="418.7" font-size="12" text-anchor="middle">Two Week</text>
<line x1="397.3" y1="405.8" x2="480.2" y2="405.8" stroke="#111" stroke-width="2"/>
<text x="439.3" y="418.7" font-size="12" text-anchor="middle">Six Week</text>
<rect x="480.8" y="234.8" width="12.6" height="6.6" fill="#b6b6b6" stroke="#111" stroke-width="1.6"/>
<rect x="480.8" y="247.5" width="12.6" height="6.6" fill="url(#hatch)" stroke="#111" stroke-width="1.6"/>
<text transform="translate(499 241) scale(0.87 1)" font-size="9.5">WT</text>
<text transform="translate(499 253.7) scale(0.87 1)" font-size="9.5">th3/+</text>
<text x="283.3" y="284.9" font-size="11.4" text-anchor="middle" transform="rotate(-90 283.3 284.9)">CHr (pg)</text>
</svg>
</body></html>
